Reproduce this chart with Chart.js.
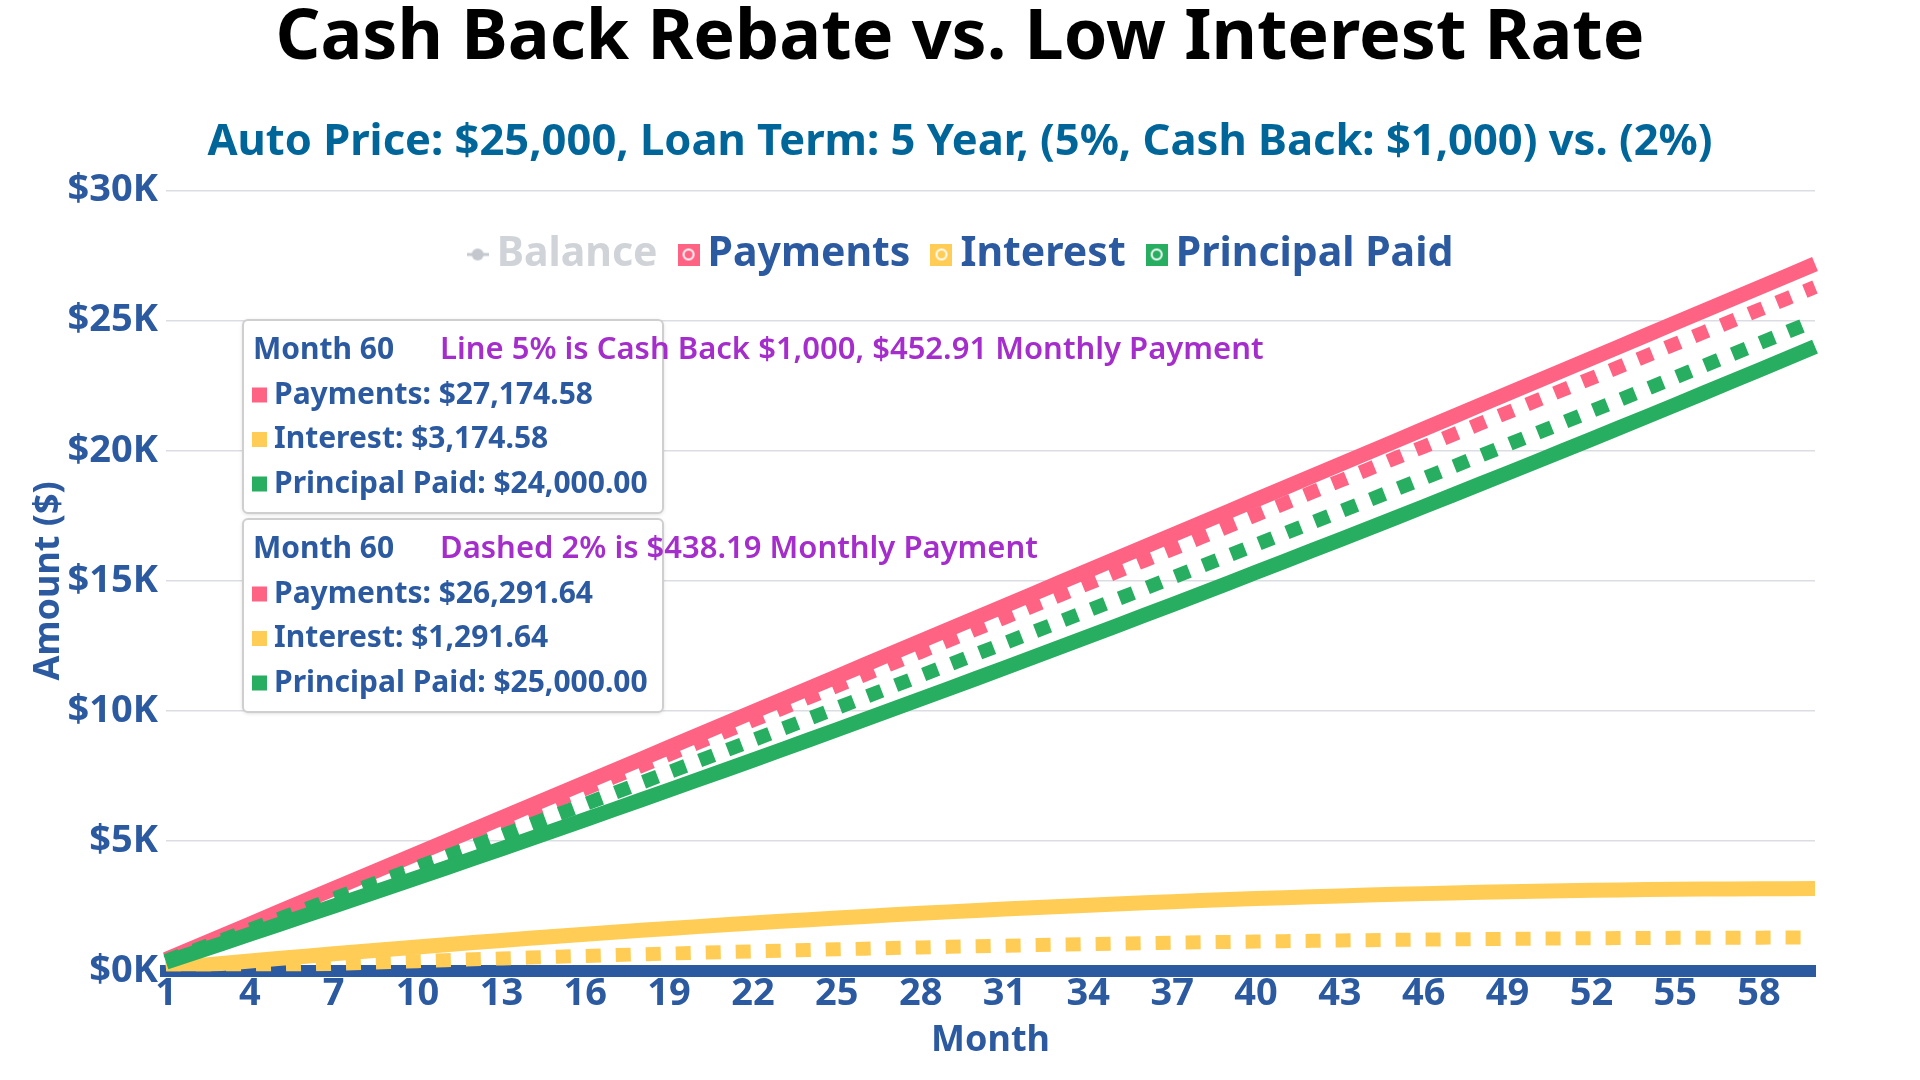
<!DOCTYPE html>
<html>
<head>
<meta charset="utf-8">
<title>Cash Back Rebate vs. Low Interest Rate</title>
<script src="https://cdn.jsdelivr.net/npm/chart.js@4.4.1/dist/chart.umd.min.js"></script>
<style>
  html, body { margin: 0; padding: 0; background: #fff; }
  #wrap { width: 1920px; height: 1080px; position: relative; }
</style>
</head>
<body>
<div id="wrap"><canvas id="loanChart"></canvas></div>
<script>
// --- данные: помесячный график двух кредитов (кумулятивно) ---
const months = [
  1, 2, 3, 4, 5, 6, 7, 8, 9, 10,
  11, 12, 13, 14, 15, 16, 17, 18, 19, 20,
  21, 22, 23, 24, 25, 26, 27, 28, 29, 30,
  31, 32, 33, 34, 35, 36, 37, 38, 39, 40,
  41, 42, 43, 44, 45, 46, 47, 48, 49, 50,
  51, 52, 53, 54, 55, 56, 57, 58, 59, 60,
];

// 5%, $24,000 (после cash back $1,000), $452.91 / мес — сплошные линии
const payments5 = [
  453, 906, 1359, 1812, 2265, 2717, 3170, 3623, 4076, 4529,
  4982, 5435, 5888, 6341, 6794, 7247, 7699, 8152, 8605, 9058,
  9511, 9964, 10417, 10870, 11323, 11776, 12229, 12681, 13134, 13587,
  14040, 14493, 14946, 15399, 15852, 16305, 16758, 17211, 17663, 18116,
  18569, 19022, 19475, 19928, 20381, 20834, 21287, 21740, 22193, 22646,
  23098, 23551, 24004, 24457, 24910, 25363, 25816, 26269, 26722, 27174.58,
];
const interest5 = [
  100, 199, 296, 391, 485, 578, 669, 758, 847, 933,
  1018, 1102, 1183, 1264, 1343, 1420, 1496, 1570, 1642, 1713,
  1783, 1851, 1917, 1981, 2044, 2106, 2165, 2224, 2280, 2335,
  2388, 2439, 2489, 2537, 2584, 2628, 2671, 2713, 2752, 2790,
  2826, 2861, 2893, 2924, 2953, 2981, 3006, 3030, 3052, 3072,
  3091, 3107, 3122, 3135, 3146, 3156, 3163, 3169, 3173, 3174.58,
];
const principal5 = [
  353, 707, 1063, 1420, 1779, 2140, 2501, 2865, 3230, 3596,
  3964, 4333, 4704, 5077, 5451, 5827, 6204, 6582, 6963, 7345,
  7728, 8113, 8500, 8888, 9278, 9670, 10063, 10458, 10854, 11253,
  11652, 12054, 12457, 12862, 13268, 13677, 14086, 14498, 14911, 15326,
  15743, 16162, 16582, 17004, 17428, 17853, 18281, 18710, 19140, 19573,
  20008, 20444, 20882, 21322, 21764, 22207, 22653, 23100, 23549, 24000,
];

// 2%, $25,000, $438.19 / мес — пунктир
const payments2 = [
  438, 876, 1315, 1753, 2191, 2629, 3067, 3506, 3944, 4382,
  4820, 5258, 5696, 6135, 6573, 7011, 7449, 7887, 8326, 8764,
  9202, 9640, 10078, 10517, 10955, 11393, 11831, 12269, 12708, 13146,
  13584, 14022, 14460, 14898, 15337, 15775, 16213, 16651, 17089, 17528,
  17966, 18404, 18842, 19280, 19719, 20157, 20595, 21033, 21471, 21910,
  22348, 22786, 23224, 23662, 24100, 24539, 24977, 25415, 25853, 26291.64,
];
const interest2 = [
  42, 83, 123, 163, 202, 240, 278, 315, 351, 387,
  422, 456, 490, 523, 555, 587, 618, 648, 678, 707,
  735, 762, 789, 815, 841, 866, 890, 913, 936, 958,
  980, 1000, 1020, 1039, 1058, 1076, 1093, 1110, 1125, 1140,
  1155, 1168, 1181, 1194, 1205, 1216, 1226, 1235, 1244, 1252,
  1259, 1266, 1272, 1277, 1281, 1285, 1288, 1290, 1291, 1291.64,
];
const principal2 = [
  397, 794, 1192, 1590, 1989, 2389, 2790, 3191, 3593, 3995,
  4398, 4802, 5207, 5612, 6018, 6424, 6831, 7239, 7648, 8057,
  8467, 8878, 9289, 9701, 10114, 10527, 10941, 11356, 11771, 12188,
  12604, 13022, 13440, 13859, 14279, 14699, 15120, 15542, 15964, 16387,
  16811, 17236, 17661, 18087, 18513, 18941, 19369, 19798, 20227, 20657,
  21088, 21520, 21952, 22385, 22819, 23254, 23689, 24125, 24562, 25000,
];

const legendNames = ['Balance', 'Payments', 'Interest', 'Principal Paid'];
const boxNotes = [
  'Line 5% is Cash Back $1,000, $452.91 Monthly Payment',
  'Dashed 2% is $438.19 Monthly Payment',
];

const PINK = '#ff6384', YELLOW = '#ffcd56', GREEN = '#27ae60';
const BLUE = '#2c5aa0', GREY = '#d0d3d8', PURPLE = '#a42dcc';
const FONT = "'Noto Sans', 'Open Sans', sans-serif";

Chart.defaults.font.family = FONT;
Chart.defaults.color = BLUE;

// маркеры легенды: квадрат с белым кольцом, у Balance — линия с точкой
function squareMark(color) {
  const c = document.createElement('canvas');
  c.width = 22; c.height = 22;
  const g = c.getContext('2d');
  g.fillStyle = color; g.fillRect(0, 0, 22, 22);
  g.strokeStyle = '#fff'; g.lineWidth = 2;
  g.beginPath(); g.arc(11, 11, 5, 0, Math.PI * 2); g.stroke();
  return c;
}
function lineMark(color) {
  const c = document.createElement('canvas');
  c.width = 22; c.height = 22;
  const g = c.getContext('2d');
  g.strokeStyle = color; g.lineWidth = 3;
  g.beginPath(); g.moveTo(0, 11); g.lineTo(22, 11); g.stroke();
  g.fillStyle = color;
  g.beginPath(); g.arc(11, 11, 6, 0, Math.PI * 2); g.fill();
  return c;
}
const legendMarks = [lineMark('#c4c8ce'), squareMark(PINK), squareMark(YELLOW), squareMark(GREEN)];

function lineDs(label, data, color, dashed, order) {
  return {
    label, data, order,
    borderColor: color, backgroundColor: color,
    borderWidth: dashed ? 14 : 15,
    borderDash: dashed ? [15, 15] : [],
    pointRadius: 0, pointHoverRadius: 0, tension: 0, fill: false,
  };
}

const money = (v) => '$' + v.toLocaleString('en-US', { minimumFractionDigits: 2, maximumFractionDigits: 2 });

// легенда в одну строку поверх верхней части области графика
const topLegend = {
  id: 'topLegend',
  afterDraw(chart) {
    const ctx = chart.ctx;
    ctx.save();
    ctx.font = `bold 41px ${FONT}`;
    ctx.textBaseline = 'middle'; ctx.textAlign = 'left';
    const markW = 22, gap = 8, space = 20;
    const widths = legendNames.map((n) => ctx.measureText(n).width);
    const total = widths.reduce((a, w) => a + markW + gap + w, 0) + space * (legendNames.length - 1);
    let x = chart.width / 2 - total / 2;
    const y = chart.chartArea.top + 64;
    legendNames.forEach((name, i) => {
      ctx.drawImage(legendMarks[i], x, y - 11);
      x += markW + gap;
      ctx.fillStyle = i === 0 ? GREY : BLUE;
      ctx.fillText(name, x, y);
      x += widths[i] + space;
    });
    ctx.restore();
  },
};

// два «тултипа» за месяц 60 — рисуются поверх графика
const month60Boxes = {
  id: 'month60Boxes',
  afterDraw(chart) {
    const ctx = chart.ctx;
    const last = months.length - 1;
    const groups = [
      { note: boxNotes[0], rows: [['Payments', payments5, PINK], ['Interest', interest5, YELLOW], ['Principal Paid', principal5, GREEN]] },
      { note: boxNotes[1], rows: [['Payments', payments2, PINK], ['Interest', interest2, YELLOW], ['Principal Paid', principal2, GREEN]] },
    ];
    const left = 243, w = 420, h = 193, tops = [320, 519];
    groups.forEach((grp, gi) => {
      const top = tops[gi];
      ctx.save();
      ctx.shadowColor = 'rgba(0,0,0,0.18)'; ctx.shadowBlur = 4; ctx.shadowOffsetY = 1;
      ctx.fillStyle = '#fff';
      ctx.beginPath(); ctx.roundRect(left, top, w, h, 5); ctx.fill();
      ctx.restore();
      ctx.save();
      ctx.strokeStyle = '#cfcfcf'; ctx.lineWidth = 2;
      ctx.beginPath(); ctx.roundRect(left, top, w, h, 5); ctx.stroke();
      ctx.textBaseline = 'middle'; ctx.textAlign = 'left';
      ctx.fillStyle = BLUE; ctx.font = `bold 30px ${FONT}`;
      ctx.fillText('Month ' + months[last], left + 10, top + 30);
      ctx.fillStyle = PURPLE; ctx.font = `600 31px ${FONT}`;
      ctx.fillText(grp.note, left + 197, top + 30);
      grp.rows.forEach(([name, arr, color], ri) => {
        const y = top + 75 + ri * 44.5;
        ctx.fillStyle = color; ctx.fillRect(left + 9, y - 7.5, 15, 15);
        ctx.fillStyle = BLUE; ctx.font = `bold 30px ${FONT}`;
        ctx.fillText(`${name}: ${money(arr[last])}`, left + 31, y);
      });
      ctx.restore();
    });
  },
};

new Chart(document.getElementById('loanChart'), {
  type: 'line',
  data: {
    labels: months,
    datasets: [
      lineDs('Payments', payments5, PINK, false, 3),
      lineDs('Interest', interest5, YELLOW, false, 5),
      lineDs('Principal Paid', principal5, GREEN, false, 1),
      lineDs('Payments (2%)', payments2, PINK, true, 4),
      lineDs('Interest (2%)', interest2, YELLOW, true, 6),
      lineDs('Principal Paid (2%)', principal2, GREEN, true, 2),
    ],
  },
  options: {
    responsive: true, maintainAspectRatio: false, animation: false,
    layout: { padding: { left: 0, right: 0, top: 4, bottom: 18 } },
    plugins: {
      title: { display: true, text: 'Cash Back Rebate vs. Low Interest Rate', color: '#000', font: { size: 70, weight: 'bold', lineHeight: 1 }, padding: { top: 0, bottom: 47 } },
      subtitle: { display: true, text: 'Auto Price: $25,000, Loan Term: 5 Year, (5%, Cash Back: $1,000) vs. (2%)', color: '#00669a', font: { size: 43.5, weight: 'bold', lineHeight: 1 }, padding: { top: 0, bottom: 26 } },
      legend: { display: false },
      tooltip: { enabled: false },
    },
    scales: {
      x: {
        grid: { display: false, drawTicks: false },
        border: { color: BLUE, width: 12 },
        ticks: { autoSkip: false, maxRotation: 0, minRotation: 0, padding: 0, font: { size: 38, weight: 'bold' },
          callback: (v, i) => (i % 3 === 0 ? months[i] : '') },
        title: { display: true, text: 'Month', font: { size: 36, weight: 'bold' }, padding: { top: 2, bottom: 0 } },
      },
      y: {
        min: 0, max: 30000,
        grid: { color: '#dcdde3', lineWidth: 1.5, drawTicks: false },
        border: { display: false },
        ticks: { stepSize: 5000, padding: 8, font: { size: 38, weight: 'bold' }, callback: (v) => '$' + (v / 1000) + 'K' },
        title: { display: true, text: 'Amount ($)', font: { size: 36, weight: 'bold' }, padding: { top: 27, bottom: 0 } },
        afterFit: (s) => { s.width = 166; },
      },
      // пустая ось справа — только отступ под правый край
      yPad: {
        position: 'right', display: true,
        grid: { display: false }, border: { display: false }, ticks: { display: false },
        afterFit: (s) => { s.width = 105; },
      },
    },
  },
  plugins: [topLegend, month60Boxes],
});
</script>
</body>
</html>
